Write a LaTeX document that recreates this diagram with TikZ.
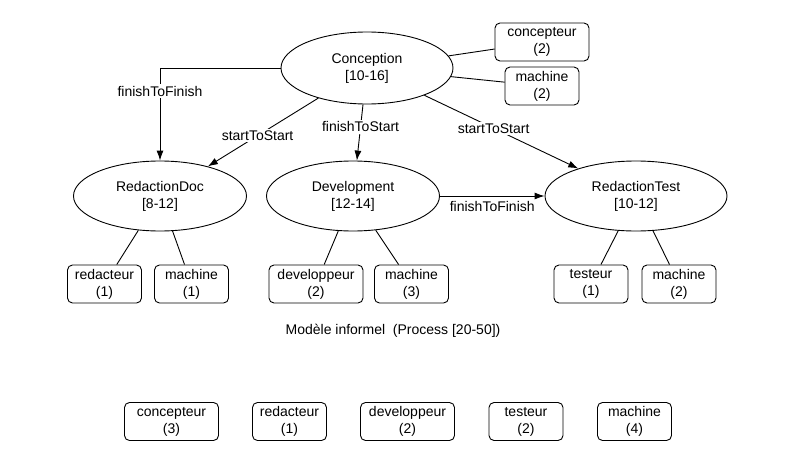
\documentclass[tikz,border=0pt]{standalone}
\usepackage{fontspec}
\setmainfont{Liberation Sans}
\usetikzlibrary{shapes.geometric,arrows.meta}

\begin{document}
\begin{tikzpicture}[x=1pt, y=-1pt, line width=0.9pt,
  font=\fontsize{14}{17}\selectfont,
  tache/.style={draw, ellipse, align=center, inner sep=1pt,
    minimum width=173pt, minimum height=70pt},
  ressource/.style={draw, rounded corners=5pt, align=center, inner sep=1pt,
    minimum width=74pt, minimum height=38pt},
  large/.style={minimum width=94pt},
  lien/.style={fill=white, inner sep=1.5pt},
  >={Latex[length=10pt,width=7pt]}]

\useasboundingbox (0,0) rectangle (797,463);

% Draw the tasks
\node [tache, minimum width=172pt, minimum height=72pt] (concep) at (367,68) {Conception\\ {[10-16]}};
\node [tache] (rdoc)  at (160,196) {RedactionDoc\\ {[8-12]}};
\node [tache] (dev)   at (353,196) {Development\\ {[12-14]}};
\node [tache, minimum width=182pt] (rtest) at (636,196) {RedactionTest\\ {[10-12]}};

% Resources of each task
\node [ressource, large] (concep-c) at (542,42) {concepteur\\ (2)};
\node [ressource] (concep-m) at (542,86) {machine\\ (2)};
\node [ressource] (rdoc-r) at (104.5,284) {redacteur\\ (1)};
\node [ressource] (rdoc-m) at (191.5,284) {machine\\ (1)};
\node [ressource, large] (dev-d) at (316,284) {developpeur\\ (2)};
\node [ressource] (dev-m) at (411.5,284) {machine\\ (3)};
\node [ressource] (rtest-t) at (591,284) {testeur\\ (1)};
\node [ressource] (rtest-m) at (679,284) {machine\\ (2)};

\node (titre) at (393,331) {Mod\`ele informel\ \ (Process [20-50])};

% Resources of the process
\node [ressource, large] (proc-c) at (171.5,421.5) {concepteur\\ (3)};
\node [ressource] (proc-r) at (289.5,421.5) {redacteur\\ (1)};
\node [ressource, large] (proc-d) at (407.5,421.5) {developpeur\\ (2)};
\node [ressource] (proc-t) at (526,421.5) {testeur\\ (2)};
\node [ressource] (proc-m) at (634.5,421.5) {machine\\ (4)};

% Draw the dependencies
\draw [->] (concep) -| node [lien, pos=0.625] {finishToFinish} (rdoc);
\draw [->] (concep) -- node [lien, pos=0.55] {startToStart} (rdoc);
\draw [->] (concep) -- node [lien, pos=0.4] {finishToStart} (dev);
\draw [->] (concep) -- node [lien, pos=0.45] {startToStart} (rtest);
\draw [->] (dev) -- node [below=2pt] {finishToFinish} (rtest);

% Link tasks to resources
\foreach \t/\r in {concep/concep-c, concep/concep-m, rdoc/rdoc-r, rdoc/rdoc-m,
                   dev/dev-d, dev/dev-m, rtest/rtest-t, rtest/rtest-m}
  \draw (\t) -- (\r);

\end{tikzpicture}
\end{document}
